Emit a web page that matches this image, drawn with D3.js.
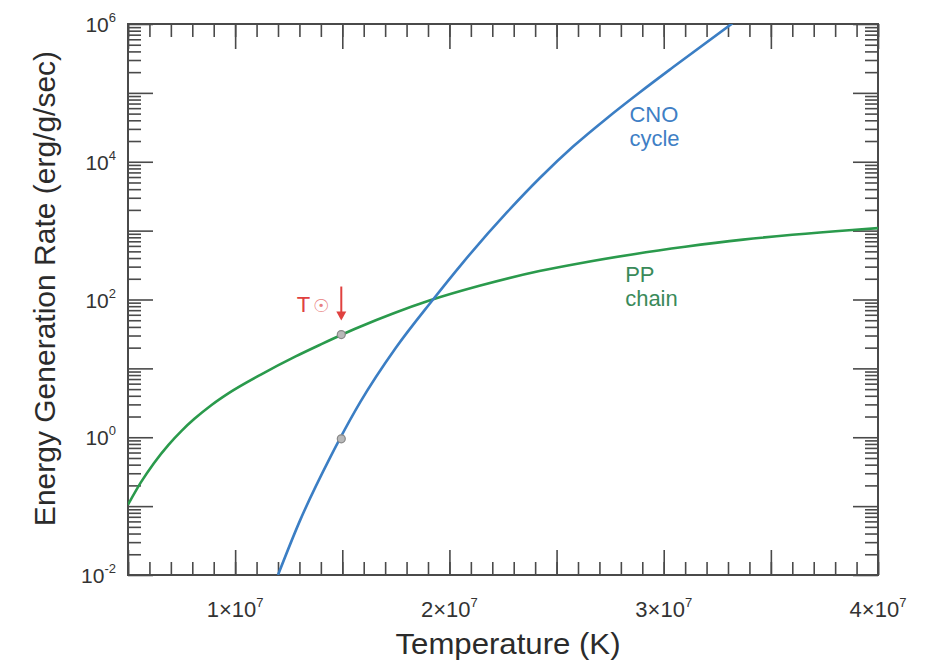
<!DOCTYPE html>
<html>
<head>
<meta charset="utf-8">
<script src="https://cdn.jsdelivr.net/npm/d3@7"></script>
<style>
  body { margin: 0; background: #fff; }
  svg { font-family: "Liberation Sans", Arial, Helvetica, sans-serif; }
  .tick line { stroke: #4a4a4a; stroke-width: 1.6; }
</style>
</head>
<body>
<div id="chart"></div>
<script>
// temperatures in K, rates in erg/g/sec
var ppTemp = [5.0e6, 5.6e6, 6.2e6, 6.9e6, 7.5e6, 8.1e6, 8.9e6, 9.7e6, 1.12e7, 1.28e7, 1.4e7, 1.5e7, 1.58e7, 1.74e7, 1.91e7, 2.14e7, 2.42e7, 2.61e7, 2.86e7, 3.1e7, 3.37e7, 3.6e7, 3.88e7, 4.0e7]
var ppRate = [0.105, 0.221, 0.417, 0.782, 1.24, 1.85, 2.94, 4.37, 8.13, 14.8, 22.3, 31.0, 39.9, 63.2, 97.3, 158, 259, 337, 455, 583, 740, 871, 1023, 1086]

var cnoTemp = [1.2e7, 1.303e7, 1.443e7, 1.489e7, 1.583e7, 1.75e7, 1.919e7, 2.063e7, 2.269e7, 2.423e7, 2.577e7, 2.735e7, 2.889e7, 3.043e7, 3.32e7]
var cnoRate = [0.01, 0.0621, 0.505, 0.953, 3.2, 19.9, 95.9, 344, 1850, 5850, 16600, 42900, 102000, 235000, 1020000]

// sun's core temperature and the two marked rates
var sunTemp = 1.5e7
var sunRates = [31, 0.95]

var xLabelTicks = [1e7, 2e7, 3e7, 4e7]
var yLabelExps = [-2, 0, 2, 4, 6]

var width = 927, height = 664
var margin = {top: 24, right: 49, bottom: 89, left: 128}
var ppColor = "#2a9a4c", cnoColor = "#3b7ec4"

var svg = d3.select("#chart").append("svg")
    .attr("width", width)
    .attr("height", height)

var x = d3.scaleLinear().domain([5e6, 4e7]).range([margin.left, width - margin.right])
var y = d3.scaleLog().domain([1e-2, 1e6]).range([height - margin.bottom, margin.top])

var xMinor = d3.range(5e6, 4e7 + 1, 1e6)
var xMajor = d3.range(5e6, 4e7 + 1, 5e6)
var yMajor = d3.range(-2, 7).map(function(e) { return Math.pow(10, e) })
var yMinor = []
for (var e = -2; e < 6; e++) {
    for (var m = 2; m <= 9; m++) yMinor.push(m * Math.pow(10, e))
}

var bigTick = 25, smallTick = 13
var plotW = width - margin.left - margin.right
var plotH = height - margin.top - margin.bottom

function addAxis(axis, tx, ty) {
    var g = svg.append("g")
        .attr("transform", "translate(" + tx + "," + ty + ")")
        .call(axis)
    g.select(".domain").remove()
    return g
}

// inward ticks on all four sides
addAxis(d3.axisTop(x).tickValues(xMinor).tickSize(smallTick).tickFormat(""), 0, margin.top + plotH)
addAxis(d3.axisTop(x).tickValues(xMajor).tickSize(bigTick).tickFormat(""), 0, margin.top + plotH)
addAxis(d3.axisBottom(x).tickValues(xMinor).tickSize(smallTick).tickFormat(""), 0, margin.top)
addAxis(d3.axisBottom(x).tickValues(xMajor).tickSize(bigTick).tickFormat(""), 0, margin.top)
addAxis(d3.axisRight(y).tickValues(yMinor).tickSize(smallTick).tickFormat(""), margin.left, 0)
addAxis(d3.axisRight(y).tickValues(yMajor).tickSize(bigTick).tickFormat(""), margin.left, 0)
addAxis(d3.axisLeft(y).tickValues(yMinor).tickSize(smallTick).tickFormat(""), margin.left + plotW, 0)
addAxis(d3.axisLeft(y).tickValues(yMajor).tickSize(bigTick).tickFormat(""), margin.left + plotW, 0)

svg.append("rect")
    .attr("x", margin.left)
    .attr("y", margin.top)
    .attr("width", plotW)
    .attr("height", plotH)
    .attr("fill", "none")
    .attr("stroke", "#4a4a4a")
    .attr("stroke-width", 2)

// tick labels
var xl = svg.append("g").selectAll("text")
    .data(xLabelTicks)
    .enter().append("text")
    .attr("x", function(d) { return x(d) })
    .attr("y", margin.top + plotH + 42)
    .attr("text-anchor", "middle")
    .attr("fill", "#333")
    .style("font-size", "22px")
xl.append("tspan").text(function(d) { return (d / 1e7) + "\u00d710" })
xl.append("tspan").attr("dy", -10).style("font-size", "13px").text("7")

var yl = svg.append("g").selectAll("text")
    .data(yLabelExps)
    .enter().append("text")
    .attr("x", margin.left - 12)
    .attr("y", function(d) { return y(Math.pow(10, d)) + 8 })
    .attr("text-anchor", "end")
    .attr("fill", "#333")
    .style("font-size", "21px")
yl.append("tspan").text("10")
yl.append("tspan").attr("dy", -10).style("font-size", "13px").text(function(d) { return d })

// axis titles
svg.append("text")
    .attr("x", margin.left + plotW / 2 + 5)
    .attr("y", height - 10)
    .attr("text-anchor", "middle")
    .attr("fill", "#2b2b2b")
    .attr("textLength", 225)
    .attr("lengthAdjust", "spacingAndGlyphs")
    .style("font-size", "29px")
    .text("Temperature (K)")

svg.append("text")
    .attr("transform", "translate(55," + (margin.top + plotH / 2 - 11) + ") rotate(-90)")
    .attr("text-anchor", "middle")
    .attr("fill", "#2b2b2b")
    .style("font-size", "30px")
    .text("Energy Generation Rate (erg/g/sec)")

// curves
svg.append("clipPath").attr("id", "plot-clip")
    .append("rect")
    .attr("x", margin.left).attr("y", margin.top)
    .attr("width", plotW).attr("height", plotH)

var lineGen = d3.line()
    .x(function(d) { return x(d[0]) })
    .y(function(d) { return y(d[1]) })
    .curve(d3.curveMonotoneX)

svg.append("path")
    .attr("d", lineGen(d3.zip(ppTemp, ppRate)))
    .attr("clip-path", "url(#plot-clip)")
    .attr("fill", "none")
    .attr("stroke", ppColor)
    .attr("stroke-width", 2.6)

svg.append("path")
    .attr("d", lineGen(d3.zip(cnoTemp, cnoRate)))
    .attr("clip-path", "url(#plot-clip)")
    .attr("fill", "none")
    .attr("stroke", cnoColor)
    .attr("stroke-width", 2.6)

// sun markers
svg.selectAll(".sun")
    .data(sunRates)
    .enter().append("circle")
    .attr("class", "sun")
    .attr("cx", x(sunTemp) - 1)
    .attr("cy", function(d) { return y(d) })
    .attr("r", 4)
    .attr("fill", "#b8b8b8")
    .attr("stroke", "#888")
    .attr("stroke-width", 1.2)

// T-sun arrow
var ax = x(sunTemp) - 1
var arrowTip = y(sunRates[0]) - 14
svg.append("line")
    .attr("x1", ax).attr("x2", ax)
    .attr("y1", arrowTip - 34).attr("y2", arrowTip - 4)
    .attr("stroke", "#e0413f")
    .attr("stroke-width", 2)
svg.append("path")
    .attr("d", d3.line()([[ax - 5, arrowTip - 9], [ax + 5, arrowTip - 9], [ax, arrowTip]]) + "Z")
    .attr("fill", "#e0413f")

var tsun = svg.append("text")
    .attr("x", ax - 12)
    .attr("y", arrowTip - 9)
    .attr("text-anchor", "end")
    .attr("fill", "#e0413f")
    .style("font-size", "22px")
tsun.append("tspan").text("T")
tsun.append("tspan").attr("dx", 3).attr("fill", "#e88080").style("font-family", "DejaVu Sans").style("font-size", "18px").text("\u2609")

// curve labels
function curveLabel(lines, tx, ty, color, gap) {
    svg.append("g").selectAll("text")
        .data(lines)
        .enter().append("text")
        .attr("x", x(tx))
        .attr("y", function(d, i) { return y(ty) + i * gap })
        .attr("fill", color)
        .style("font-size", "22px")
        .text(function(d) { return d })
}
curveLabel(["CNO", "cycle"], 2.84e7, 3.8e4, "#3f7fc5", 24)
curveLabel(["PP", "chain"], 2.82e7, 180, "#3a8a5a", 24)
</script>
</body>
</html>
